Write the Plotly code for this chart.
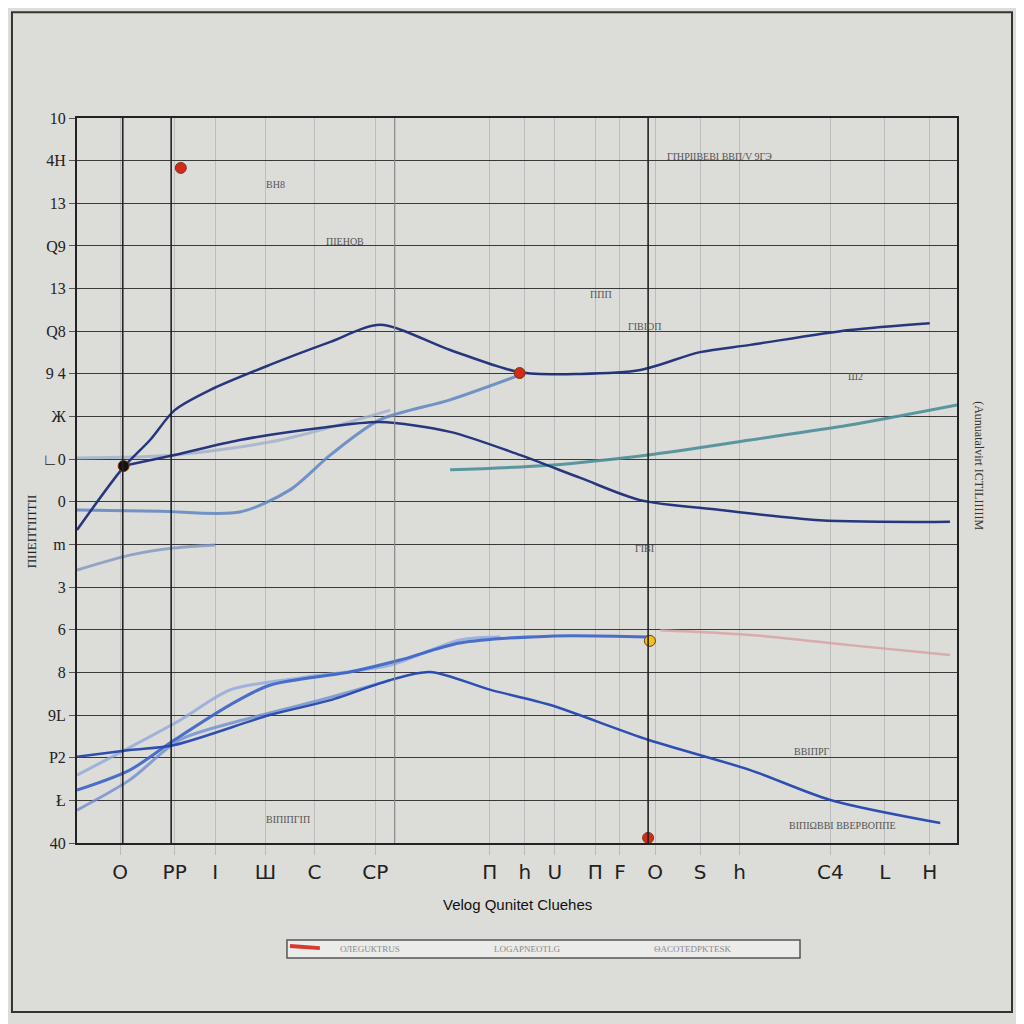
import plotly.graph_objects as go

# ---------------- data (x: 0..100, y: 0..17) ----------------
x_tick_vals = [4.9, 11.1, 15.7, 21.4, 27.0, 33.9, 46.9, 50.9, 54.3, 58.9, 61.7, 65.7, 70.8, 75.3, 85.6, 91.8, 96.9]
x_tick_text = ["O", "PP", "I", "Ш", "C", "CP", "Π", "h", "U", "Π", "F", "O", "S", "h", "C4", "L", "H"]

y_tick_vals = list(range(0, 18))
y_tick_text = ["40", "Ł", "P2", "9L", "8", "6", "3", "m", "0", "∟0", "Ж", "9 4", "Q8", "13", "Q9", "13", "4H", "10"]

dark_vlines = [5.2, 10.7, 64.9]
mid_vlines = [36.1]

s1_x = [0, 5.2, 8.3, 11.1, 15.1, 21.9, 28.8, 34.4, 42.4, 50.3, 57.2, 64.0, 70.8, 76.5, 87.8, 96.9]
s1_y = [7.34, 8.79, 9.45, 10.15, 10.62, 11.21, 11.75, 12.15, 11.56, 11.04, 11.0, 11.09, 11.51, 11.68, 12.03, 12.19]

s2_x = [5.2, 11.1, 18.5, 27.6, 34.4, 42.4, 50.3, 57.2, 64.0, 73.1, 84.4, 99.2]
s2_y = [8.84, 9.10, 9.45, 9.73, 9.87, 9.64, 9.10, 8.56, 8.04, 7.81, 7.57, 7.53]

s3_x = [0, 9.4, 18.5, 24.2, 28.8, 34.4, 42.4, 50.3]
s3_y = [7.81, 7.78, 7.76, 8.28, 9.10, 9.92, 10.39, 10.97]

s3b_x = [0, 11.1, 23.1, 35.6]
s3b_y = [9.03, 9.10, 9.45, 10.15]

s4_x = [42.4, 53.7, 64.9, 76.5, 87.8, 100]
s4_y = [8.75, 8.86, 9.10, 9.45, 9.80, 10.27]

s5_x = [0, 6.0, 11.1, 15.7]
s5_y = [6.40, 6.75, 6.92, 6.99]

l1_x = [0, 6.0, 11.1, 21.9, 28.8, 35.6, 40.1, 47.0, 53.7, 64.9, 76.5, 85.6, 98.1]
l1_y = [2.02, 2.18, 2.30, 3.0, 3.35, 3.82, 4.01, 3.59, 3.24, 2.42, 1.71, 1.01, 0.47]

l2_x = [0, 6.0, 11.1, 17.4, 21.9, 31.0, 36.7, 43.5, 53.7, 64.9]
l2_y = [1.24, 1.71, 2.42, 3.24, 3.70, 4.01, 4.29, 4.69, 4.85, 4.83]

l3_x = [66.3, 76.5, 87.8, 99.2]
l3_y = [4.99, 4.88, 4.64, 4.41]

l4_x = [0, 11.7, 17.4, 25.3, 35.6, 43.5, 48.1]
l4_y = [1.59, 2.88, 3.59, 3.87, 4.17, 4.76, 4.83]

l5_x = [0, 6.0, 11.7, 19.7, 27.6, 35.6]
l5_y = [0.77, 1.48, 2.42, 2.93, 3.35, 3.82]

mk_x = [11.8, 50.3, 5.3, 65.1, 64.9]
mk_y = [15.83, 11.02, 8.84, 4.74, 0.12]
mk_c = ["#d42a1e", "#d42a1e", "#111111", "#f2c21b", "#d42a1e"]

note_x = [73.0, 22.5, 30.5, 59.5, 88.5, 83.5, 87.0, 64.5, 24.0, 64.5]
note_y = [16.1, 15.45, 14.1, 12.85, 10.95, 2.15, 0.4, 6.9, 0.55, 12.1]
note_t = ["ΓΙΉΡΙΙΒΕΒΙ ΒΒΠ/V 9ГЭ", "ВН8", "ΠΙΕΗΟΒ", "ΠΠΠ", "Ш2", "ΒΒΙΠΡΓ", "ΒΙΠΙΩΒΒΙ ΒΒΕΡΒΟΠΠΕ", "ΓΙΒΙ", "ΒΙΠΙΠΓΙΠ", "ΓΙΒΙΟΠ"]

legend_names = ["ОЛЕGUКТRUS", "LOGAPNEOTLG", "ΘACOTEDPKTESK"]
legend_text_x = [0.333, 0.511, 0.700]

fig = go.Figure()

def line(x, y, color, width=2.5, opacity=1.0):
    fig.add_trace(go.Scatter(x=x, y=y, mode="lines", line=dict(color=color, width=width, shape="spline", smoothing=0.8),
                             opacity=opacity, showlegend=False, hoverinfo="skip"))

line(s3b_x, s3b_y, "#9fb0cc", 3, 0.8)
line(s3_x, s3_y, "#5f86c4", 3, 0.85)
line(s5_x, s5_y, "#7d97c4", 3, 0.8)
line(s4_x, s4_y, "#4c8f9a", 3, 0.9)
line(s2_x, s2_y, "#1d2f7a", 2.5, 0.95)
line(s1_x, s1_y, "#1d2f7a", 2.5, 0.95)
line(l5_x, l5_y, "#6f8fd0", 3, 0.8)
line(l4_x, l4_y, "#8fa8dc", 3, 0.8)
line(l2_x, l2_y, "#3a64c8", 3, 0.9)
line(l1_x, l1_y, "#2448b0", 2.5, 0.95)
line(l3_x, l3_y, "#d9a0a0", 2.5, 0.8)

fig.add_trace(go.Scatter(x=mk_x, y=mk_y, mode="markers", marker=dict(color=mk_c, size=11, line=dict(color="#7a3a10", width=1)),
                         showlegend=False, hoverinfo="skip"))

for xv in dark_vlines:
    fig.add_shape(type="line", x0=xv, x1=xv, y0=0, y1=17, xref="x", yref="y", line=dict(color="#222222", width=1.6), layer="above")
for xv in mid_vlines:
    fig.add_shape(type="line", x0=xv, x1=xv, y0=0, y1=17, xref="x", yref="y", line=dict(color="#888888", width=1.2))

for tx, ty, tt in zip(note_x, note_y, note_t):
    fig.add_annotation(x=tx, y=ty, text=tt, showarrow=False, font=dict(family="Liberation Serif", size=10, color="#555555"))

# outer frame
fig.add_shape(type="rect", xref="paper", yref="paper", x0=-0.0739, x1=1.0625, y0=-0.233, y1=1.146,
              line=dict(color="#333333", width=2), fillcolor="rgba(0,0,0,0)")

# legend box (drawn by hand so it stays thin like the reference)
fig.add_shape(type="rect", xref="paper", yref="paper", x0=0.2386, x1=0.8216, y0=-0.1586, y1=-0.1338,
              line=dict(color="#555555", width=1.5), fillcolor="#ebebe9")
fig.add_shape(type="line", xref="paper", yref="paper", x0=0.242, x1=0.276, y0=-0.1420, y1=-0.1450,
              line=dict(color="#d93a2a", width=4))
for lx, ln in zip(legend_text_x, legend_names):
    fig.add_annotation(xref="paper", yref="paper", x=lx, y=-0.1462, text=ln, showarrow=False,
                       font=dict(family="Liberation Serif", size=9, color="#8a8a8a"), xanchor="center", yanchor="middle")

fig.add_annotation(xref="paper", yref="paper", x=0.5, y=-0.070, text="Velog Qunitet Cluehes", showarrow=False,
                   font=dict(family="Liberation Sans", size=15, color="#111111"), xanchor="center", yanchor="top")
fig.add_annotation(xref="paper", yref="paper", x=-0.063, y=0.43, text="ΠΙΙΕΠΤΙΠΤΙΙ", textangle=-90, showarrow=False,
                   font=dict(family="Liberation Serif", size=13, color="#222222"))
fig.add_annotation(xref="paper", yref="paper", x=1.035, y=0.52, text="(Aunuatalvirt ICTILIIIIIM", textangle=90, showarrow=False,
                   font=dict(family="Liberation Serif", size=12, color="#333333"))

fig.update_layout(
    width=1024, height=1024,
    margin=dict(l=69, r=75, t=110, b=189),
    paper_bgcolor="#dcdcd8", plot_bgcolor="#dcdcd8",
    showlegend=False,
    xaxis=dict(range=[0, 100], tickvals=x_tick_vals, ticktext=x_tick_text, showgrid=True, gridcolor="#bdbdbd", gridwidth=1,
               zeroline=False, showline=True, linecolor="#222222", linewidth=2, mirror=True,
               ticks="outside", ticklen=10, tickcolor="#bbbbbb",
               tickfont=dict(family="DejaVu Sans", size=20, color="#222222")),
    yaxis=dict(range=[0, 17], tickvals=y_tick_vals, ticktext=y_tick_text, showgrid=True, gridcolor="#3a3a3a", gridwidth=1.2,
               zeroline=False, showline=True, linecolor="#222222", linewidth=2, mirror=True,
               ticks="outside", ticklen=6, tickcolor="#555555",
               tickfont=dict(family="Liberation Serif", size=16, color="#222222")),
)

fig.write_html("out.html")
